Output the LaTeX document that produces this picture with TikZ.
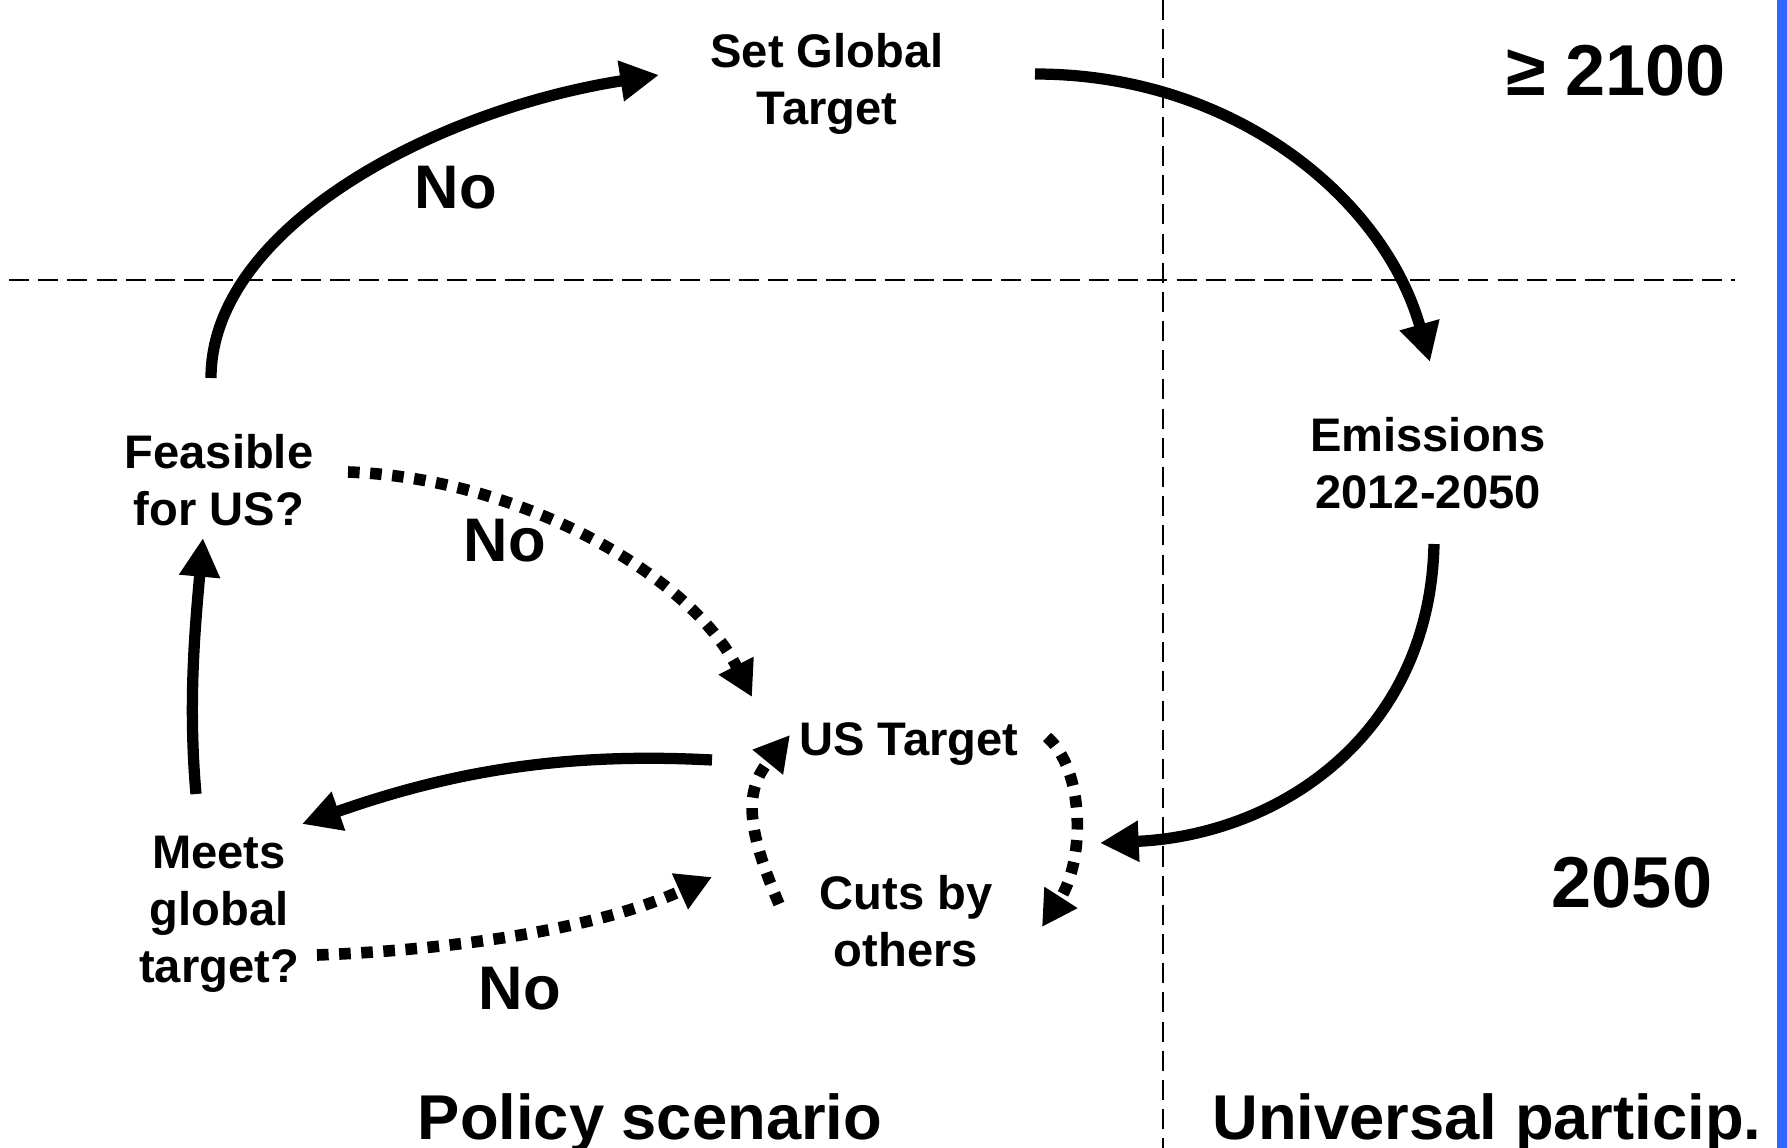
\documentclass[tikz,border=0pt]{standalone}
\usepackage{fontspec}
\setmainfont{Liberation Sans}
\usetikzlibrary{arrows.meta,calc}
\definecolor{barblue}{RGB}{51,102,255}

\begin{document}
\begin{tikzpicture}[x=0.01cm,y=-0.01cm,
  lbl/.style={font=\fontsize{13.4}{16.2}\selectfont\bfseries, align=center, inner sep=0pt},
  nolbl/.style={font=\fontsize{17.5}{21}\selectfont\bfseries, inner sep=0pt},
  big/.style={font=\fontsize{20.5}{24}\selectfont\bfseries, inner sep=0pt},
  foot/.style={font=\fontsize{18}{22}\selectfont\bfseries, inner sep=0pt},
  divider/.style={line width=0.7pt, dash pattern=on 5.7pt off 2.6pt},
  flow/.style={line width=3.2pt, -{Triangle[length=11pt,width=11pt]}},
  maybe/.style={line width=3.3pt, dash pattern=on 3.3pt off 3pt, -{Triangle[length=10pt,width=10.5pt]}}]
\useasboundingbox (0,0) rectangle (1787,1148);
\fill[barblue] (1777,0) rectangle (1787,1148);
\draw[divider] (9,280) -- (1735,280);
\draw[divider] (1163,0) -- (1163,1148);

\node[lbl] (glob) at (827,84) {Set Global\\Target};
\node[lbl] (emis) at (1428,463) {Emissions\\2012-2050};
\node[lbl] (feas) at (219,480) {Feasible\\for US?};
\node[lbl] (ustar) at (909,744) {US Target};
\node[lbl] (meets) at (219,914) {Meets\\global\\target?};
\node[lbl] (cuts) at (906,921) {Cuts by\\others};
\node[nolbl] (no1) at (456,188) {No};
\node[nolbl] (no2) at (505,541) {No};
\node[nolbl] (no3) at (520,989) {No};
\node[big] (yr2100) at (1616,71) {≥ 2100};
\node[big] (yr2050) at (1632,883) {2050};
\node[foot] (policy) at (650,1123) {Policy scenario};
\node[foot] (univ) at (1487,1123) {Universal particip.};

\draw[flow] ($(feas)+(-8,-102)$) .. controls +(0,-150) and +(-225,35) .. ($(glob)+(-168,-9)$);
\draw[flow] ($(glob)+(208,-10)$) .. controls +(200,0) and +(-46,-163) .. ($(emis)+(2,-101)$);
\draw[flow] ($(emis)+(6,81)$) .. controls +(-4,190) and +(180,-8) .. ($(cuts)+(194,-78)$);
\draw[flow] ($(ustar)+(-197,16)$) .. controls +(-150,-8) and +(148,-52) .. ($(meets)+(83,-90)$);
\draw[flow] ($(meets)+(-23,-120)$) .. controls +(-8,-90) and +(-8,90) .. ($(feas)+(-16,58)$);
\draw[maybe] ($(feas)+(129,-8)$) .. controls +(172,6) and +(-62,-122) .. ($(ustar)+(-157,-47)$);
\draw[maybe] ($(meets)+(98,41)$) .. controls +(133,-5) and +(-118,53) .. ($(cuts)+(-194,-44)$);
\draw[maybe] ($(cuts)+(-127,-17)$) .. controls +(-34,-79) and +(-45,55) .. ($(ustar)+(-119,-9)$);
\draw[maybe] ($(ustar)+(138,-7)$) .. controls +(38,33) and +(43,-67) .. ($(cuts)+(136,6)$);
\end{tikzpicture}
\end{document}
